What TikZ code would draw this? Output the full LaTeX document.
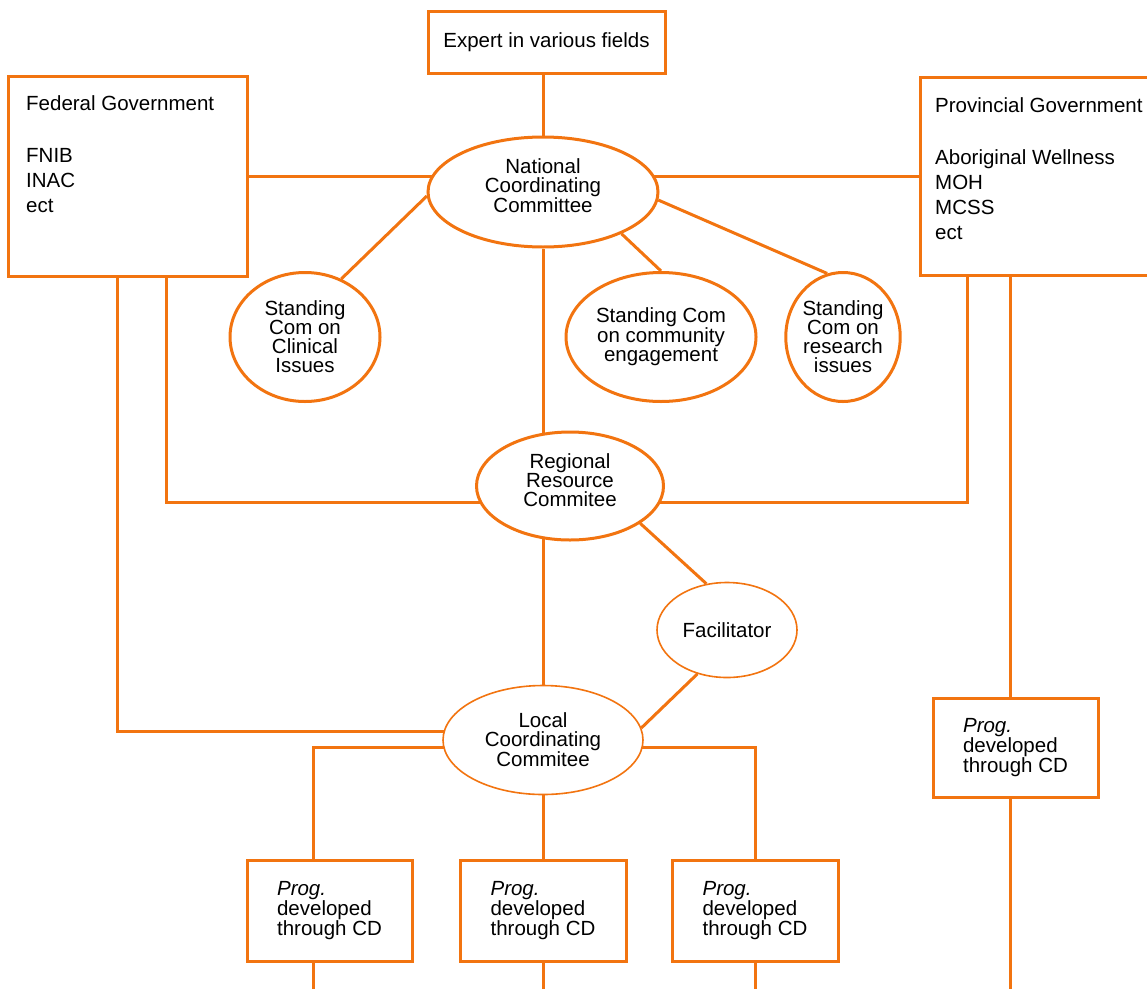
\documentclass[tikz,border=0pt]{standalone}
\usepackage{fontspec}
\setmainfont{Liberation Sans}
\usetikzlibrary{shapes.geometric,backgrounds}
\definecolor{org}{RGB}{242,116,16}
\begin{document}
\begin{tikzpicture}[x=1pt,y=-1pt,
  box/.style={draw=org,line width=3pt,fill=white,rectangle,inner sep=0pt,font=\fontsize{20.5}{20}\selectfont},
  oval/.style={draw=org,line width=3pt,fill=white,ellipse,inner sep=0pt,align=center,font=\fontsize{20.5}{19}\selectfont},
  thinoval/.style={oval,line width=1.6pt},
  link/.style={draw=org,line width=3pt},
  txt/.style={inner sep=0pt,anchor=north west,align=left,font=\fontsize{20.5}{25}\selectfont}]
\useasboundingbox (0,0) rectangle (1147,988);

\node[box,minimum width=237pt,minimum height=62pt] (expert) at (546.5,42) {Expert in various fields};
\node[box,minimum width=239pt,minimum height=200pt] (fed) at (127.5,176) {};
\node[txt] (fedtxt) at (26,95) {Federal Government\\[27pt]FNIB\\INAC\\ect};
\node[box,minimum width=242pt,minimum height=198pt] (prov) at (1041,176) {};
\node[txt] (provtxt) at (935,97) {Provincial Government\\[27pt]Aboriginal Wellness\\MOH\\MCSS\\ect};

\node[oval,minimum width=230pt,minimum height=110pt,text depth=12pt] (nat) at (543,192) {National\\Coordinating\\Committee};
\node[oval,minimum width=150pt,minimum height=129pt] (clin) at (305,337) {Standing\\Com on\\Clinical\\Issues};
\node[oval,minimum width=190pt,minimum height=129pt] (comm) at (661,337) {Standing Com\\on community\\engagement};
\node[oval,minimum width=114pt,minimum height=129pt] (res) at (843,337) {Standing\\Com on\\research\\issues};
\node[oval,minimum width=187pt,minimum height=108pt,text depth=12pt] (reg) at (570,486) {Regional\\Resource\\Commitee};
\node[thinoval,minimum width=140pt,minimum height=95pt] (fac) at (727,630) {Facilitator};
\node[thinoval,minimum width=200pt,minimum height=109pt] (loc) at (543,740) {Local\\Coordinating\\Commitee};

\node[box,align=left,minimum width=165pt,minimum height=101pt] (prog1) at (329.5,910.5) {\textit{Prog.}\\developed\\through CD};
\node[box,align=left,minimum width=166pt,minimum height=101pt] (prog2) at (543,910.5) {\textit{Prog.}\\developed\\through CD};
\node[box,align=left,minimum width=166pt,minimum height=101pt] (prog3) at (755,910.5) {\textit{Prog.}\\developed\\through CD};
\node[box,align=left,minimum width=165pt,minimum height=99pt] (prog4) at (1015.5,747.5) {\textit{Prog.}\\developed\\through CD};

\coordinate (b1) at (313.5,992);
\coordinate (b2) at (543,992);
\coordinate (b3) at (755,992);
\coordinate (b4) at (1010,992);

\begin{scope}[on background layer]
\draw[link] (expert.south -| nat.north) -- (nat.north);
\draw[link] (fed.east) -- (fed.east -| nat.center);
\draw[link] (prov.west) -- (prov.west -| nat.center);
\draw[link] (nat.182) -- (clin.58);
\draw[link] (nat.332) -- (comm.north);
\draw[link] (nat.356) -- (res.104);
\draw[link] (nat.south) -- (reg.center -| nat.south);
\draw[link] (reg.center -| loc.north) -- (loc.north);
\draw[link] ([xshift=38.5pt]fed.south) |- ([yshift=-16pt]reg.center);
\draw[link] ([xshift=-74pt]prov.south) |- ([yshift=-16pt]reg.center);
\draw[link] ([xshift=-10.5pt]fed.south) |- ([yshift=9pt]loc.center);
\draw[link] ([xshift=-31pt]prov.south) -- (prog4.north -| b4);
\draw[link] (prog4.south -| b4) -- (b4);
\draw[link] (reg.332.5) -- (fac.114);
\draw[link] (fac.236) -- (loc.7);
\draw[link] ([yshift=-7pt]loc.center) -| (prog1.north -| b1);
\draw[link] ([yshift=-7pt]loc.center) -| (prog3.north);
\draw[link] (loc.south) -- (prog2.north);
\draw[link] (prog1.south -| b1) -- (b1);
\draw[link] (prog2.south) -- (b2);
\draw[link] (prog3.south) -- (b3);
\end{scope}
\end{tikzpicture}
\end{document}
